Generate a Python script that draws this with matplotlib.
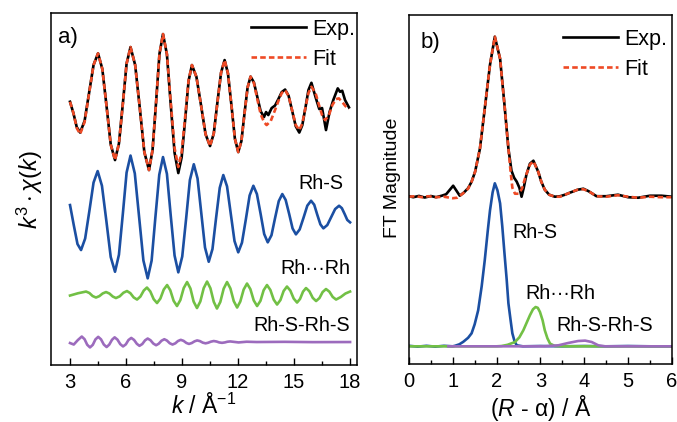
import numpy as np
import matplotlib
matplotlib.use('Agg')
import matplotlib.pyplot as plt

plt.rcParams['font.family'] = ['Liberation Sans', 'DejaVu Sans']
plt.rcParams['mathtext.fontset'] = 'custom'
plt.rcParams['mathtext.rm'] = 'Liberation Sans'
plt.rcParams['mathtext.it'] = 'Liberation Sans:italic'
plt.rcParams['mathtext.bf'] = 'Liberation Sans:bold'

# k-space: k^3 chi(k), experiment
exp_k = [3.00, 3.18, 3.36, 3.54, 3.78, 4.02, 4.26, 4.50, 4.73, 4.96, 5.18, 5.41, 5.62, 5.83, 6.03,
         6.24, 6.49, 6.74, 6.98, 7.23, 7.42, 7.61, 7.79, 7.98, 8.19, 8.39, 8.60, 8.80, 8.98, 9.17,
         9.35, 9.53, 9.77, 10.02, 10.26, 10.50, 10.70, 10.89, 11.09, 11.28, 11.46, 11.65, 11.83, 12.01,
         12.18, 12.34, 12.51, 12.67, 12.85, 13.03, 13.21, 13.39, 13.50, 13.62, 13.80, 13.98, 14.16,
         14.34, 14.52, 14.71, 14.90, 15.09, 15.28, 15.44, 15.61, 15.77, 15.93, 16.15, 16.35, 16.50,
         16.71, 16.90, 17.10, 17.34, 17.46, 17.58, 17.73, 17.94]
exp_chi = [1.33, 0.2, -1.2, -1.75, -0.59, 2.21, 5.01, 6.17, 4.61, 0.83, -2.94, -4.5, -2.85, 1.15, 5.15,
           6.8, 5.0, 0.65, -3.7, -5.5, -3.51, 1.3, 6.11, 8.1, 6.07, 1.15, -3.77, -5.8, -4.22, -0.4,
           3.42, 5.0, 3.82, 0.95, -1.92, -3.1, -1.84, 1.2, 4.24, 5.5, 4.16, 0.9, -2.36, -3.7,
           -2.6, 0.08, 2.75, 3.85, 3.26, 1.82, 0.39, -0.2, 0.3, 0.0, 0.7, 0.95, 1.6,
           2.3, 2.55, 1.92, 0.4, -1.12, -1.75, -1.02, 0.74, 2.5, 3.23, 1.8, 0.6, 0.7,
           -1.5, 0.3, 1.5, 2.67, 2.33, 2.43, 1.5, 0.77]

# k-space fit
fit_k = [3.00, 3.18, 3.36, 3.54, 3.78, 4.02, 4.26, 4.50, 4.73, 4.96, 5.18, 5.41, 5.62, 5.83, 6.03,
         6.24, 6.49, 6.74, 6.98, 7.23, 7.42, 7.61, 7.79, 7.98, 8.19, 8.39, 8.60, 8.80, 8.98, 9.17,
         9.35, 9.53, 9.77, 10.02, 10.26, 10.50, 10.70, 10.89, 11.09, 11.28, 11.46, 11.65, 11.83, 12.01,
         12.18, 12.34, 12.51, 12.67, 12.85, 13.03, 13.21, 13.39, 13.53, 13.75, 13.98, 14.16, 14.34,
         14.52, 14.71, 14.90, 15.09, 15.28, 15.44, 15.61, 15.77, 15.93, 16.15, 16.35, 16.50, 16.66,
         16.85, 17.05, 17.25, 17.40, 17.58, 17.75, 17.94]
fit_chi = [1.33, 0.2, -1.3, -1.9, -0.7, 2.15, 5.0, 6.17, 4.61, 0.83, -2.94, -4.5, -2.85, 1.15, 5.15,
           6.8, 5.0, 0.65, -3.7, -5.5, -3.51, 1.3, 6.11, 8.1, 6.1, 1.4, -3.3, -5.2, -3.7, -0.1,
           3.5, 5.0, 3.82, 0.95, -1.92, -3.1, -1.84, 1.2, 4.24, 5.5, 4.16, 0.9, -2.36, -3.7,
           -2.6, 0.08, 2.75, 3.85, 3.2, 1.6, 0.1, -0.7, -1.0, -0.6, 0.5, 1.4, 2.2,
           2.5, 1.9, 0.45, -1.0, -1.5, -0.85, 0.75, 2.2, 2.83, 2.2, 0.9, 0.0, -0.5,
           -0.1, 1.0, 1.6, 1.67, 1.3, 0.9, 0.6]

# single-path contributions
rhs_k = [3.00, 3.20, 3.40, 3.59, 3.81, 4.04, 4.26, 4.48, 4.71, 4.95, 5.18, 5.41, 5.62, 5.83, 6.03,
         6.24, 6.47, 6.70, 6.93, 7.16, 7.37, 7.57, 7.78, 7.98, 8.19, 8.39, 8.60, 8.80, 9.01, 9.22,
         9.42, 9.63, 9.83, 10.03, 10.23, 10.43, 10.63, 10.82, 11.02, 11.21, 11.41, 11.61, 11.81, 12.01,
         12.21, 12.42, 12.62, 12.82, 13.01, 13.21, 13.40, 13.59, 13.79, 13.98, 14.18, 14.37, 14.55,
         14.74, 14.92, 15.10, 15.30, 15.51, 15.71, 15.91, 16.08, 16.24, 16.41, 16.57, 16.78, 16.99,
         17.20, 17.41, 17.56, 17.71, 17.85, 18.00]
rhs_chi = [1.0, -1.0, -2.9, -3.5, -2.35, 0.45, 3.25, 4.4, 2.93, -0.64, -4.2, -5.67, -3.97, 0.14, 4.25,
           5.95, 4.16, -0.19, -4.54, -6.33, -4.56, -0.27, 4.03, 5.8, 4.12, 0.03, -4.05, -5.73, -4.15, -0.33,
           3.5, 5.08, 3.66, 0.2, -3.25, -4.67, -3.4, -0.34, 2.73, 4.0, 2.87, 0.13, -2.6, -3.73,
           -2.76, -0.4, 1.96, 2.93, 2.1, 0.1, -1.9, -2.73, -2.02, -0.32, 1.39, 2.1, 1.51,
           0.09, -1.34, -1.93, -1.44, -0.25, 0.94, 1.43, 1.03, 0.05, -0.93, -1.33, -1.0, -0.2,
           0.6, 0.93, 0.69, 0.1, -0.49, -0.73]

rr_k = [3.00, 3.43, 3.86, 4.04, 4.21, 4.39, 4.57, 4.75, 4.93, 5.11, 5.29, 5.46, 5.66, 5.86, 6.05,
        6.23, 6.41, 6.59, 6.77, 6.95, 7.12, 7.30, 7.48, 7.66, 7.84, 8.02, 8.20, 8.37, 8.55, 8.73,
        8.91, 9.09, 9.27, 9.45, 9.62, 9.80, 9.98, 10.16, 10.34, 10.52, 10.70, 10.87, 11.05, 11.23, 11.41,
        11.59, 11.77, 11.95, 12.12, 12.30, 12.48, 12.66, 12.84, 13.02, 13.20, 13.37, 13.55, 13.73, 13.91,
        14.09, 14.27, 14.44, 14.62, 14.80, 14.98, 15.16, 15.32, 15.48, 15.64, 15.82, 16.00, 16.18, 16.36,
        16.53, 16.71, 16.89, 17.07, 17.25, 17.50, 17.75, 18.00]
rr_chi = [-0.05, 0.18, 0.35, 0.20, -0.10, -0.25, -0.11, 0.16, 0.30, 0.15, -0.15, -0.30, -0.13, 0.23, 0.40,
          0.19, -0.24, -0.45, -0.15, 0.45, 0.75, 0.36, -0.41, -0.80, -0.35, 0.55, 1.00, 0.48, -0.58, -1.10,
          -0.50, 0.70, 1.30, 0.65, -0.65, -1.30, -0.64, 0.69, 1.35, 0.68, -0.68, -1.35, -0.69, 0.64, 1.30,
          0.66, -0.61, -1.25, -0.65, 0.55, 1.15, 0.59, -0.54, -1.10, -0.58, 0.48, 1.00, 0.51, -0.46,
          -0.95, -0.50, 0.40, 0.85, 0.45, -0.35, -0.75, -0.39, 0.34, 0.70, 0.38, -0.28, -0.60, -0.30,
          0.30, 0.60, 0.34, -0.19, -0.45, -0.20, 0.15, 0.35]

rsrs_k = [3.00, 3.20, 3.42, 3.63, 3.78, 3.92, 4.07, 4.22, 4.36, 4.51, 4.66, 4.81, 4.96, 5.10, 5.25,
          5.39, 5.54, 5.69, 5.84, 5.99, 6.13, 6.28, 6.43, 6.58, 6.72, 6.87, 7.02, 7.16, 7.31, 7.46,
          7.61, 7.75, 7.90, 8.05, 8.19, 8.34, 8.49, 8.64, 8.78, 8.93, 9.08, 9.23, 9.37, 9.52, 9.67,
          9.81, 9.96, 10.11, 10.26, 10.40, 10.55, 10.70, 10.85, 10.99, 11.14, 11.29, 11.43, 11.58, 12.03,
          12.46, 13.00, 14.5, 16.0, 18.0]
rsrs_chi = [-0.10, -0.25, 0.20, 0.55, 0.28, -0.27, -0.54, -0.28, 0.26, 0.52, 0.27, -0.25, -0.50, -0.26, 0.23,
            0.47, 0.24, -0.21, -0.44, -0.23, 0.20, 0.41, 0.21, -0.18, -0.38, -0.20, 0.17, 0.35, 0.18, -0.15,
            -0.32, -0.17, 0.13, 0.28, 0.15, -0.12, -0.25, -0.13, 0.10, 0.22, 0.12, -0.09, -0.19, -0.10, 0.07,
            0.16, 0.09, -0.06, -0.13, -0.07, 0.04, 0.10, 0.05, -0.04, -0.08, -0.04, 0.03, 0.06, -0.04,
            0.03, 0.0, 0.02, -0.01, 0.0]

# R-space: FT magnitude
ft_exp_r = [0.0, 0.1, 0.23, 0.36, 0.5, 0.62, 0.75, 0.85, 1.01, 1.1, 1.16, 1.25, 1.35, 1.43, 1.51, 1.62,
            1.73, 1.85, 1.96, 2.08, 2.18, 2.27, 2.34, 2.40, 2.46, 2.52, 2.57, 2.62, 2.68, 2.76, 2.84,
            2.95, 3.02, 3.10, 3.2, 3.33, 3.45, 3.56, 3.7, 3.85, 3.98, 4.1, 4.28, 4.5, 4.77, 5.0, 5.23,
            5.5, 5.76, 6.0]
ft_exp = [0.05, -0.05, 0.08, -0.08, 0.07, -0.05, 0.1, 0.25, 1.1, 0.5, 0.1, 0.4, 0.85, 1.5, 2.5, 4.8,
          8.8, 13.2, 16.0, 13.8, 9.2, 4.8, 2.6, 1.9, 1.5, 0.9, 0.0, 0.9, 2.2, 3.3, 3.6,
          2.5, 1.5, 0.7, 0.2, 0.0, 0.05, 0.2, 0.45, 0.7, 0.8, 0.55, 0.05, 0.05, 0.2, -0.05, -0.1,
          0.1, 0.1, 0.0]
ft_fit_r = [0.0, 0.15, 0.3, 0.45, 0.6, 0.8, 1.0, 1.1, 1.24, 1.35, 1.43, 1.51, 1.62, 1.73, 1.85, 1.96,
            2.08, 2.18, 2.27, 2.32, 2.36, 2.42, 2.5, 2.58, 2.66, 2.76, 2.84, 2.95, 3.02, 3.10, 3.2,
            3.33, 3.45, 3.56, 3.7, 3.85, 3.98, 4.1, 4.28, 4.5, 4.77, 5.0, 5.23, 5.5, 5.76, 6.0]
ft_fit = [0.0, 0.05, -0.05, 0.05, -0.05, 0.0, -0.15, -0.1, 0.35, 0.8, 1.5, 2.5, 4.8, 8.8, 13.2, 16.0,
          13.8, 9.2, 4.8, 2.5, 0.9, 0.3, 0.3, 0.8, 2.0, 3.2, 3.55, 2.5, 1.5, 0.7, 0.2,
          0.0, 0.0, 0.2, 0.45, 0.7, 0.75, 0.55, 0.05, 0.0, 0.15, 0.0, -0.1, 0.0, -0.05, -0.05]

ft_rhs_r = [0.0, 0.2, 0.4, 0.6, 0.8, 1.0, 1.05, 1.15, 1.24, 1.35, 1.43, 1.5, 1.58, 1.66, 1.73, 1.8,
            1.85, 1.91, 1.96, 2.02, 2.08, 2.13, 2.18, 2.23, 2.27, 2.32, 2.36, 2.41, 2.46, 2.6, 3.0,
            3.5, 4.0, 4.5, 5.0, 5.5, 6.0]
ft_rhs = [0.05, -0.03, 0.05, -0.03, 0.05, 0.0, 0.05, 0.2, 0.45, 0.85, 1.3, 2.2, 3.6, 6.0, 8.6, 11.6,
          13.6, 15.4, 16.3, 15.6, 14.3, 12.0, 9.3, 6.7, 4.3, 2.6, 1.3, 0.5, 0.1, 0.0, 0.03,
          0.0, 0.03, 0.0, 0.03, 0.0, 0.0]
ft_rr_r = [0.0, 2.0, 2.11, 2.25, 2.42, 2.52, 2.61, 2.69, 2.76, 2.83, 2.89, 2.94, 2.99, 3.05, 3.10,
           3.16, 3.22, 3.33, 3.6, 6.0]
ft_rr = [0.0, 0.0, 0.03, 0.15, 0.43, 0.9, 1.6, 2.4, 3.1, 3.7, 3.93, 3.85, 3.43, 2.6, 1.6,
         0.8, 0.27, 0.03, 0.0, 0.0]
ft_rsrs_r = [0.9, 3.1, 3.41, 3.63, 3.86, 4.02, 4.17, 4.32, 4.47, 6.0]
ft_rsrs = [0.0, 0.0, 0.1, 0.33, 0.53, 0.57, 0.43, 0.1, 0.0, 0.0]

c_fit = '#ee4a25'
c_rhs = '#1b4fa2'
c_rr = '#72c045'
c_rsrs = '#9c6bbd'
lw = 1.9
dash = (0, (2.1, 1.2))
fs_lab = 14.2
fs_leg = 15.5

fig = plt.figure(figsize=(6.77, 4.22), dpi=100)
ax1 = fig.add_axes([0.0753, 0.135, 0.452, 0.834])
ax2 = fig.add_axes([0.604, 0.1374, 0.3885, 0.827])

# (a) k-space, curves stacked with vertical offsets
ax1.plot(exp_k, np.array(exp_chi) + 25, color='black', lw=lw, label='Exp.')
ax1.plot(fit_k, np.array(fit_chi) + 25, color=c_fit, lw=lw, ls=dash, label='Fit')
ax1.plot(rhs_k, np.array(rhs_chi) + 15, color=c_rhs, lw=lw)
ax1.plot(rr_k, np.array(rr_chi) + 7, color=c_rr, lw=lw)
ax1.plot(rsrs_k, np.array(rsrs_chi) + 2.3, color=c_rsrs, lw=lw)

ax1.text(2.36, 32.8, 'a)', fontsize=16, ha='left', va='center')
ax1.text(17.62, 18.2, 'Rh-S', fontsize=fs_lab, ha='right', va='center')
ax1.text(18.0, 9.7, 'Rh\u00b7\u00b7\u00b7Rh', fontsize=fs_lab, ha='right', va='center')
ax1.text(18.0, 4.0, 'Rh-S-Rh-S', fontsize=fs_lab, ha='right', va='center')

ax1.set_xlim(1.98, 18.37)
ax1.set_ylim(0, 35.2)
ax1.set_xticks([3, 6, 9, 12, 15, 18])
ax1.set_xticks(np.arange(4.5, 18, 3), minor=True)
ax1.set_yticks([])
ax1.set_xlabel(r'$k$ / Å$^{-1}$', fontsize=16.5, labelpad=1)
ax1.set_ylabel(r'$k^{3}\cdot\chi(k)$', fontsize=17)
ax1.yaxis.set_label_coords(-0.02, 0.5)
ax1.legend(loc='upper right', bbox_to_anchor=(0.993, 0.984), frameon=False, fontsize=fs_leg,
           handlelength=2.56, handletextpad=0.28, labelspacing=0.42, borderpad=0, borderaxespad=0)

# (b) R-space
ft_off = 16.73
comp_off = 1.77
ax2.plot(ft_rhs_r, np.array(ft_rhs) + comp_off, color=c_rhs, lw=lw)
ax2.plot(ft_rr_r, np.array(ft_rr) + comp_off, color=c_rr, lw=lw)
ax2.plot(ft_rsrs_r, np.array(ft_rsrs) + comp_off, color=c_rsrs, lw=lw)
ax2.plot(ft_exp_r, np.array(ft_exp) + ft_off, color='black', lw=lw, label='Exp.')
ax2.plot(ft_fit_r, np.array(ft_fit) + ft_off, color=c_fit, lw=lw, ls=dash, label='Fit')

ax2.text(0.27, 32.2, 'b)', fontsize=16, ha='left', va='center')
ax2.text(2.35, 13.2, 'Rh-S', fontsize=fs_lab, ha='left', va='center')
ax2.text(2.65, 7.07, 'Rh\u00b7\u00b7\u00b7Rh', fontsize=fs_lab, ha='left', va='center')
ax2.text(3.37, 3.9, 'Rh-S-Rh-S', fontsize=fs_lab, ha='left', va='center')

ax2.set_xlim(0, 6)
ax2.set_ylim(0, 34.9)
ax2.set_xticks(range(7))
ax2.set_xticks(np.arange(0.5, 6, 1), minor=True)
ax2.set_yticks([])
ax2.set_xlabel(r'($R$ - α) / Å', fontsize=16.5, labelpad=1)
ax2.set_ylabel('FT Magnitude', fontsize=14)
ax2.yaxis.set_label_coords(-0.03, 0.533)
ax2.legend(loc='upper right', bbox_to_anchor=(0.981, 0.960), frameon=False, fontsize=fs_leg,
           handlelength=2.56, handletextpad=0.28, labelspacing=0.42, borderpad=0, borderaxespad=0)

for ax in (ax1, ax2):
    ax.tick_params(axis='x', which='major', direction='in', length=5, width=1, labelsize=14.5, pad=6)
    ax.tick_params(axis='x', which='minor', direction='in', length=3, width=1)
    for sp in ax.spines.values():
        sp.set_linewidth(1.1)

fig.savefig('out.png', dpi=100)
